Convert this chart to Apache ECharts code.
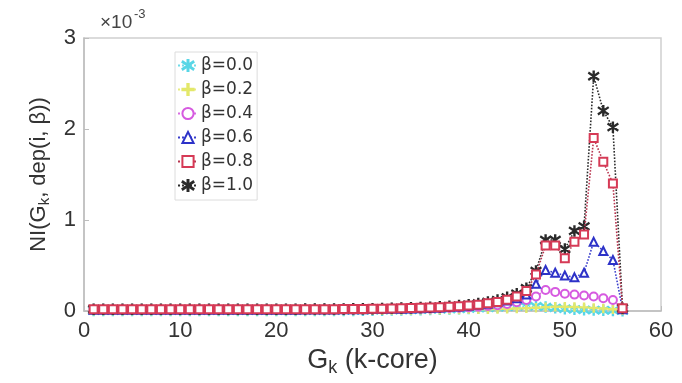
<!DOCTYPE html>
<html><head><meta charset="utf-8">
<script src="https://cdn.jsdelivr.net/npm/echarts@6/dist/echarts.min.js"></script>
<style>html,body{margin:0;padding:0;background:#fff}#c{width:682px;height:383px}</style>
</head><body><div id="c"></div>
<script>
const kValues = [1,2,3,4,5,6,7,8,9,10,11,12,13,14,15,16,17,18,19,20,21,22,23,24,25,26,27,28,29,30,31,32,33,34,35,36,37,38,39,40,41,42,43,44,45,46,47,48,49,50,51,52,53,54,55,56];
const seriesNames = ['β=0.0','β=0.2','β=0.4','β=0.6','β=0.8','β=1.0'];
// values in units of 1e-3
const beta00 = [0.005,0.005,0.005,0.005,0.005,0.005,0.005,0.005,0.005,0.005,0.005,0.005,0.005,0.005,0.005,0.005,0.005,0.005,0.005,0.005,0.005,0.005,0.005,0.005,0.005,0.005,0.006,0.006,0.007,0.008,0.009,0.01,0.011,0.013,0.015,0.017,0.019,0.021,0.024,0.027,0.031,0.035,0.04,0.045,0.05,0.053,0.052,0.045,0.035,0.025,0.018,0.013,0.01,0.008,0.006,0.004];
const beta02 = [0.005,0.005,0.005,0.005,0.005,0.005,0.005,0.005,0.005,0.005,0.005,0.005,0.005,0.005,0.005,0.005,0.005,0.005,0.005,0.005,0.005,0.005,0.005,0.005,0.005,0.005,0.006,0.006,0.007,0.008,0.009,0.01,0.011,0.012,0.013,0.014,0.015,0.016,0.017,0.018,0.019,0.02,0.022,0.024,0.027,0.031,0.036,0.042,0.046,0.047,0.045,0.04,0.034,0.027,0.02,0.008];
const beta04 = [0.012,0.012,0.012,0.012,0.012,0.012,0.012,0.012,0.012,0.012,0.012,0.012,0.012,0.012,0.012,0.012,0.012,0.012,0.012,0.012,0.012,0.012,0.012,0.013,0.013,0.014,0.014,0.015,0.016,0.017,0.018,0.019,0.02,0.022,0.024,0.026,0.029,0.032,0.036,0.04,0.046,0.054,0.064,0.078,0.096,0.12,0.16,0.23,0.21,0.19,0.18,0.17,0.16,0.14,0.12,0.02];
const beta06 = [0.015,0.015,0.015,0.015,0.015,0.015,0.015,0.015,0.015,0.015,0.015,0.015,0.015,0.015,0.015,0.015,0.015,0.015,0.015,0.015,0.015,0.015,0.016,0.016,0.017,0.017,0.018,0.019,0.02,0.021,0.022,0.024,0.026,0.028,0.031,0.034,0.038,0.043,0.05,0.058,0.068,0.08,0.095,0.115,0.14,0.18,0.3,0.45,0.42,0.39,0.37,0.42,0.76,0.66,0.56,0.02];
const beta08 = [0.018,0.018,0.018,0.018,0.018,0.018,0.018,0.018,0.018,0.018,0.018,0.018,0.018,0.018,0.018,0.018,0.018,0.018,0.018,0.018,0.018,0.018,0.019,0.019,0.02,0.02,0.021,0.022,0.023,0.024,0.026,0.028,0.03,0.032,0.035,0.038,0.042,0.047,0.053,0.06,0.07,0.085,0.1,0.125,0.16,0.22,0.4,0.72,0.72,0.58,0.76,0.84,1.9,1.64,1.4,0.03];
const beta10 = [0.02,0.02,0.02,0.02,0.02,0.02,0.02,0.02,0.02,0.02,0.02,0.02,0.02,0.02,0.02,0.02,0.02,0.02,0.02,0.02,0.02,0.02,0.021,0.021,0.022,0.022,0.023,0.024,0.025,0.026,0.028,0.03,0.032,0.035,0.038,0.042,0.047,0.053,0.06,0.07,0.083,0.1,0.12,0.15,0.19,0.25,0.44,0.78,0.78,0.68,0.88,0.93,2.58,2.2,2.02,0.03];
const xTicks = [0,10,20,30,40,50,60];
const yTicks = [0,1,2,3];

const colors = ['#58d6e6','#e3e86a','#d65ae0','#2d32c8','#d63a56','#2a2a2a'];
const lineColors = ['#6fdbe8','#e8ec80','#d86ce2','#3a3ecc','#b8344e','#2a2a2a'];
const zOrder = [2, 3, 4, 5, 7, 6];
const asterisk = 'path://M4.6,0H5.4V10H4.6Z M0.4,2.1L0.8,1.4L9.6,7.9L9.2,8.6Z M0.4,7.9L9.2,1.4L9.6,2.1L0.8,8.6Z';
const plus = 'path://M4.4,0H5.6V4.4H10V5.6H5.6V10H4.4V5.6H0V4.4H4.4Z';
const symbols = [asterisk, plus, 'emptyCircle', 'emptyTriangle', 'emptyRect', asterisk];
const allData = [beta00, beta02, beta04, beta06, beta08, beta10];

const chart = echarts.init(document.getElementById('c'));
const FONT = 'Liberation Sans, Arial, sans-serif';
chart.setOption({
  animation: false,
  backgroundColor: '#fff',
  grid: {left: 84, right: 21, top: 38, bottom: 72, show: false},
  legend: {
    orient: 'vertical', left: 175, top: 52,
    backgroundColor: '#fff', borderColor: '#dcdcdc', borderWidth: 1,
    padding: [5, 4, 6, 2], itemGap: 7, itemWidth: 20, itemHeight: 14,
    textStyle: {fontFamily: 'DejaVu Sans, sans-serif', fontSize: 17, color: '#333', padding: [0,0,0,-2]},
    data: seriesNames
  },
  xAxis: {
    type: 'value', min: 0, max: 60, interval: 10,
    name: '{a|G}{s|k}{a| (k-core)}', nameLocation: 'middle', nameGap: 27,
    nameTextStyle: {rich: {a: {fontFamily: FONT, fontSize: 27, color: '#333'}, s: {fontFamily: FONT, fontSize: 18, color: '#333', verticalAlign: 'bottom', padding: [15,0,0,0]}}},
    axisLine: {show: true, onZero: false, lineStyle: {color: '#bdbdbd', width: 1.5}},
    axisTick: {show: true, inside: true, length: 5, lineStyle: {color: '#bdbdbd'}},
    axisLabel: {fontFamily: FONT, fontSize: 22, color: '#333', margin: 9,
      formatter: v => xTicks.includes(v) ? String(v) : ''},
    splitLine: {show: false}
  },
  yAxis: {
    type: 'value', min: 0, max: 3, interval: 1,
    name: '{a|NI(G}{s|k}{a|, dep(i, β))}', nameLocation: 'middle', nameGap: 32,
    nameTextStyle: {rich: {a: {fontFamily: FONT, fontSize: 22, color: '#333'}, s: {fontFamily: FONT, fontSize: 15, color: '#333', verticalAlign: 'bottom', padding: [12,0,0,0]}}},
    axisLine: {show: true, onZero: false, lineStyle: {color: '#bdbdbd', width: 1.5}},
    axisTick: {show: true, inside: true, length: 5, lineStyle: {color: '#bdbdbd'}},
    axisLabel: {fontFamily: FONT, fontSize: 22, color: '#333', margin: 8,
      formatter: v => yTicks.includes(v) ? String(v) : ''},
    splitLine: {show: false}
  },
  graphic: [
    {type: 'rect', shape: {x: 84, y: 38, width: 577, height: 273}, style: {fill: 'none', stroke: '#d0d0d0', lineWidth: 1.5}, silent: true, z: -1},
    {type: 'text', left: 100, top: 13, style: {text: '×10', font: '19px Liberation Sans, Arial', fill: '#444'}},
    {type: 'text', left: 134, top: 8, style: {text: '-3', font: '13px Liberation Sans, Arial', fill: '#444'}}
  ],
  series: allData.map((d, i) => ({
    name: seriesNames[i],
    type: 'line',
    data: kValues.map((k, j) => [k, d[j]]),
    symbol: symbols[i],
    symbolSize: (i === 5 || i === 0) ? 10 : 8,
    showAllSymbol: true,
    itemStyle: {color: colors[i], borderColor: colors[i], borderWidth: 1.5},
    lineStyle: {color: lineColors[i], width: 1.6, type: 'dotted'},
    z: zOrder[i]
  }))
});
</script></body></html>
